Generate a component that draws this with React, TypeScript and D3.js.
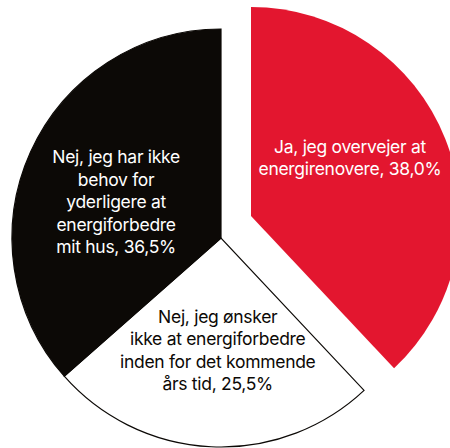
import * as d3 from "d3";

const answers = [
  "Ja, jeg overvejer at energirenovere",
  "Nej, jeg ønsker ikke at energiforbedre inden for det kommende års tid",
  "Nej, jeg har ikke behov for yderligere at energiforbedre mit hus",
];
const shares = [38.0, 25.5, 36.5];
const labelLines = [
  ["Ja, jeg overvejer at", "energirenovere, 38,0%"],
  ["Nej, jeg ønsker", "ikke at energiforbedre", "inden for det kommende", "års tid, 25,5%"],
  ["Nej, jeg har ikke", "behov for", "yderligere at", "energiforbedre", "mit hus, 36,5%"],
];
const fills = ["#e3162f", "#ffffff", "#0c0906"];
const textColors = ["#ffffff", "#0c0906", "#ffffff"];

type Slice = { name: string; value: number; index: number };

export default function App() {
  const width = 450;
  const height = 448;
  const cx = 221;
  const cy = 238;
  const radius = 209;
  const lineHeight = 22.5;

  const data: Slice[] = answers.map((name, index) => ({ name, value: shares[index], index }));
  const pie = d3
    .pie<Slice>()
    .sort(null)
    .value((d) => d.value)
    .startAngle(0)
    .endAngle(2 * Math.PI);
  const arcs = pie(data);
  const arc = d3.arc<d3.PieArcDatum<Slice>>().innerRadius(0).outerRadius(radius);
  const labelArc = d3.arc<d3.PieArcDatum<Slice>>().innerRadius(0).outerRadius(radius * 1.07);

  // the first slice is pulled out towards the upper right
  const explode = (i: number) => (i === 0 ? [30, -22] : [0, 0]);
  // small nudges so the text blocks sit like the original
  const labelNudge = [[-5, -18], [2, 0], [-3, 9]];

  return (
    <svg
      width={width}
      height={height}
      viewBox={`0 0 ${width} ${height}`}
      style={{ position: "absolute", left: 0, top: 0, background: "#ffffff" }}
    >
      <g transform={`translate(${cx},${cy})`}>
        {arcs.map((a, i) => {
          const [dx, dy] = explode(i);
          return (
            <path
              key={a.data.name}
              d={arc(a) ?? ""}
              transform={`translate(${dx},${dy})`}
              fill={fills[i]}
              stroke={i === 0 ? "none" : "#0c0906"}
              strokeWidth={1.2}
            />
          );
        })}
        {arcs.map((a, i) => {
          const [dx, dy] = explode(i);
          const c = labelArc.centroid(a);
          const x = c[0] + dx + labelNudge[i][0];
          const y = c[1] + dy + labelNudge[i][1];
          const lines = labelLines[i];
          const top = y - ((lines.length - 1) * lineHeight) / 2;
          return (
            <text
              key={`label-${a.data.name}`}
              x={x}
              y={top}
              textAnchor="middle"
              dominantBaseline="central"
              fill={textColors[i]}
              fontFamily="Inter, 'Open Sans', sans-serif"
              fontSize={17.5}
              fontWeight={400}
              letterSpacing={-0.3}
            >
              {lines.map((line, k) => (
                <tspan key={k} x={x} y={top + k * lineHeight}>
                  {line}
                </tspan>
              ))}
            </text>
          );
        })}
      </g>
    </svg>
  );
}
